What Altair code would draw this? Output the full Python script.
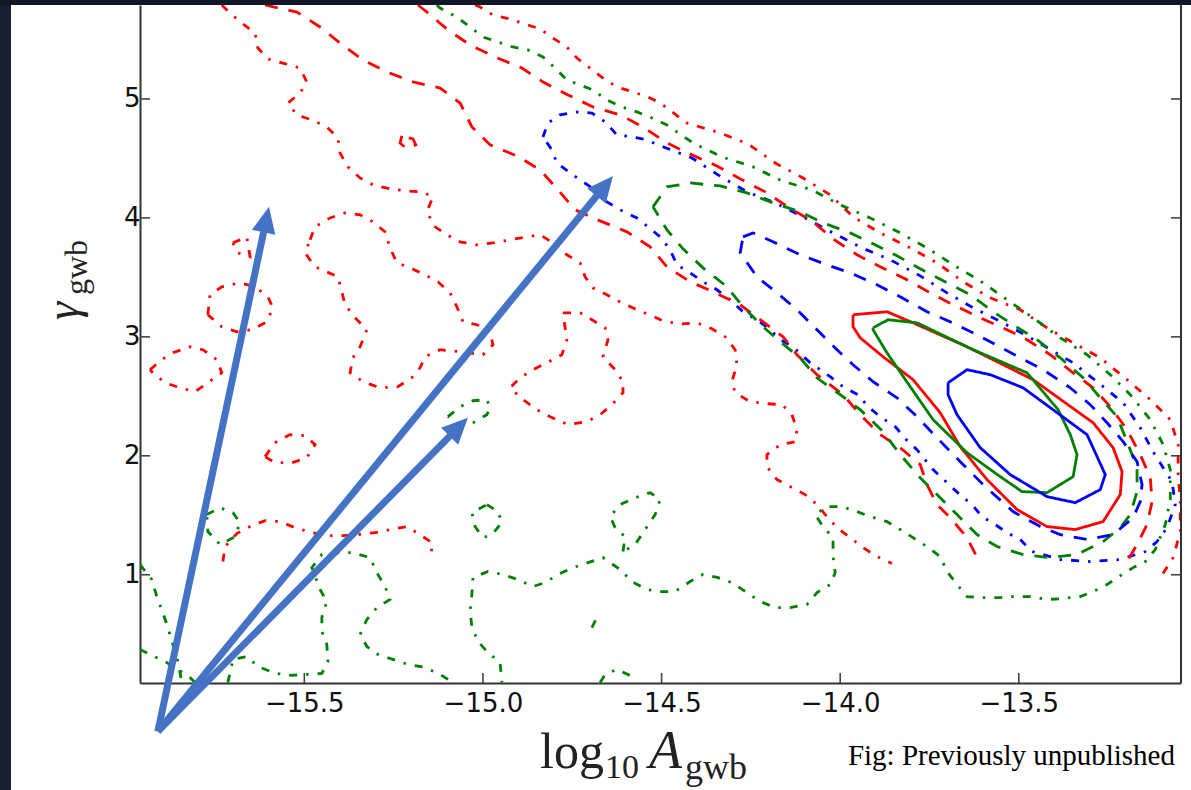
import math
import altair as alt
import pandas as pd

# ---------------------------------------------------------------------------
# Posterior contours in the (log10 A_gwb, gamma_gwb) plane.
# Three analyses (red, green, blue), each with 1-, 2- and 3-sigma levels.
# Points are (log10 A, gamma) pairs.
# ---------------------------------------------------------------------------

RED_1SIG = [(-13.964, 3.186), (-13.869, 3.211), (-13.796, 3.118), (-13.645, 2.917),
            (-13.460, 2.640), (-13.292, 2.278), (-13.236, 2.068), (-13.211, 1.867),
            (-13.216, 1.674), (-13.264, 1.447), (-13.342, 1.380), (-13.421, 1.405),
            (-13.505, 1.548), (-13.589, 1.800), (-13.664, 2.077), (-13.720, 2.362),
            (-13.796, 2.640), (-13.880, 2.833), (-13.944, 2.992), (-13.964, 3.085)]

GREEN_1SIG = [(-13.908, 3.076), (-13.866, 3.144), (-13.785, 3.118), (-13.628, 2.892),
              (-13.477, 2.698), (-13.390, 2.388), (-13.356, 2.178), (-13.337, 2.010),
              (-13.348, 1.825), (-13.421, 1.690), (-13.491, 1.699), (-13.552, 1.825),
              (-13.645, 2.026), (-13.740, 2.304), (-13.804, 2.581), (-13.869, 2.866),
              (-13.908, 3.060)]

BLUE_1SIG = [(-13.698, 2.614), (-13.645, 2.724), (-13.580, 2.682), (-13.488, 2.572),
             (-13.309, 2.178), (-13.258, 1.842), (-13.272, 1.716), (-13.342, 1.606),
             (-13.421, 1.657), (-13.524, 1.842), (-13.608, 2.068), (-13.673, 2.346),
             (-13.698, 2.514)]

BLUE_2SIG = [(-14.272, 3.841), (-14.244, 3.874), (-14.188, 3.799), (-14.112, 3.690),
             (-14.037, 3.606), (-13.972, 3.538), (-13.897, 3.438), (-13.832, 3.337),
             (-13.757, 3.211), (-13.692, 3.127), (-13.617, 3.018), (-13.496, 2.824),
             (-13.432, 2.724), (-13.356, 2.572), (-13.300, 2.430), (-13.253, 2.278),
             (-13.208, 2.119), (-13.169, 1.951), (-13.155, 1.758), (-13.160, 1.615),
             (-13.180, 1.480), (-13.236, 1.338), (-13.309, 1.296), (-13.384, 1.338),
             (-13.440, 1.405), (-13.516, 1.531), (-13.600, 1.758), (-13.664, 1.951),
             (-13.729, 2.152), (-13.785, 2.329), (-13.841, 2.488), (-13.908, 2.623),
             (-13.964, 2.766), (-14.009, 2.892), (-14.065, 3.060), (-14.121, 3.228),
             (-14.177, 3.370), (-14.233, 3.505), (-14.280, 3.706)]

GREEN_2SIG = [(-14.524, 4.093), (-14.485, 4.261), (-14.420, 4.294), (-14.336, 4.269),
              (-14.261, 4.210), (-14.188, 4.126), (-14.112, 4.051), (-14.048, 3.958),
              (-13.972, 3.874), (-13.908, 3.782), (-13.841, 3.681), (-13.776, 3.572),
              (-13.701, 3.454), (-13.636, 3.354), (-13.572, 3.211), (-13.516, 3.102),
              (-13.449, 2.976), (-13.384, 2.824), (-13.320, 2.656), (-13.272, 2.488),
              (-13.225, 2.329), (-13.197, 2.119), (-13.169, 1.900), (-13.169, 1.699),
              (-13.188, 1.506), (-13.216, 1.396), (-13.264, 1.279), (-13.337, 1.170),
              (-13.412, 1.144), (-13.488, 1.170), (-13.561, 1.237), (-13.617, 1.338),
              (-13.673, 1.506), (-13.729, 1.674), (-13.776, 1.816), (-13.832, 2.010),
              (-13.880, 2.203), (-13.944, 2.388), (-14.000, 2.514), (-14.065, 2.656),
              (-14.112, 2.824), (-14.168, 2.959), (-14.216, 3.085), (-14.272, 3.253),
              (-14.317, 3.421), (-14.384, 3.580), (-14.440, 3.740), (-14.485, 3.900)]

RED_2SIG_LEFT = [(-15.610, 5.790), (-15.521, 5.731), (-15.456, 5.605), (-15.400, 5.470),
                 (-15.336, 5.328), (-15.269, 5.227), (-15.196, 5.143), (-15.120, 5.092),
                 (-15.064, 4.966), (-15.031, 4.765), (-14.980, 4.614), (-14.905, 4.521),
                 (-14.840, 4.404), (-14.790, 4.236), (-14.742, 4.068), (-14.672, 3.975),
                 (-14.597, 3.883), (-14.532, 3.757), (-14.485, 3.589), (-14.420, 3.463),
                 (-14.356, 3.379), (-14.280, 3.270), (-14.224, 3.144), (-14.160, 3.001),
                 (-14.121, 2.850), (-14.065, 2.682), (-13.992, 2.514), (-13.944, 2.346),
                 (-13.888, 2.178), (-13.832, 2.068), (-13.776, 1.926), (-13.757, 1.758),
                 (-13.729, 1.590), (-13.692, 1.480), (-13.645, 1.312), (-13.614, 1.128)]

RED_2SIG_RIGHT = [(-15.182, 5.790), (-15.157, 5.731), (-15.098, 5.580), (-15.036, 5.454),
                  (-14.966, 5.353), (-14.891, 5.260), (-14.832, 5.143), (-14.762, 5.034),
                  (-14.692, 4.933), (-14.616, 4.866), (-14.552, 4.765), (-14.485, 4.630),
                  (-14.415, 4.530), (-14.345, 4.437), (-14.275, 4.320), (-14.210, 4.219),
                  (-14.146, 4.093), (-14.076, 3.967), (-14.020, 3.824), (-13.953, 3.690),
                  (-13.888, 3.589), (-13.813, 3.480), (-13.748, 3.370), (-13.684, 3.270),
                  (-13.608, 3.160), (-13.533, 3.060), (-13.477, 2.976), (-13.412, 2.850),
                  (-13.348, 2.698), (-13.292, 2.572), (-13.244, 2.413), (-13.197, 2.220),
                  (-13.160, 2.010), (-13.132, 1.816), (-13.127, 1.615), (-13.141, 1.422),
                  (-13.169, 1.254), (-13.197, 1.111)]

RED_2SIG_ISLAND = [(-15.227, 4.689), (-15.232, 4.630), (-15.213, 4.580),
                   (-15.188, 4.614), (-15.196, 4.664)]

RED_3SIG_LEFT = [(-15.731, 5.790), (-15.708, 5.722), (-15.675, 5.638), (-15.638, 5.554),
                 (-15.630, 5.428), (-15.602, 5.336), (-15.560, 5.302), (-15.512, 5.260),
                 (-15.493, 5.143), (-15.512, 5.050), (-15.546, 4.966), (-15.521, 4.866),
                 (-15.479, 4.824), (-15.437, 4.765), (-15.406, 4.672), (-15.400, 4.546),
                 (-15.378, 4.429), (-15.344, 4.336), (-15.308, 4.278), (-15.260, 4.244),
                 (-15.213, 4.227), (-15.171, 4.219), (-15.140, 4.177), (-15.157, 4.051),
                 (-15.134, 3.925), (-15.101, 3.858), (-15.064, 3.799), (-15.017, 3.774),
                 (-14.972, 3.790), (-14.924, 3.816), (-14.877, 3.841), (-14.840, 3.858),
                 (-14.804, 3.790), (-14.765, 3.690), (-14.728, 3.622), (-14.714, 3.505),
                 (-14.692, 3.412), (-14.653, 3.354), (-14.611, 3.286), (-14.569, 3.228),
                 (-14.527, 3.177), (-14.490, 3.127), (-14.443, 3.110), (-14.401, 3.118),
                 (-14.359, 3.068), (-14.322, 3.001), (-14.294, 2.892), (-14.289, 2.766),
                 (-14.303, 2.623), (-14.294, 2.530), (-14.252, 2.455), (-14.205, 2.438),
                 (-14.163, 2.430), (-14.135, 2.346), (-14.121, 2.220), (-14.126, 2.119),
                 (-14.168, 2.094), (-14.205, 2.010), (-14.205, 1.909), (-14.177, 1.800),
                 (-14.140, 1.741), (-14.098, 1.674), (-14.065, 1.590), (-14.037, 1.489),
                 (-14.009, 1.396), (-13.972, 1.312), (-13.936, 1.228), (-13.897, 1.153),
                 (-13.855, 1.094)]

RED_3SIG_RIGHT = [(-15.022, 5.790), (-15.008, 5.773), (-14.972, 5.706), (-14.924, 5.672),
                  (-14.882, 5.630), (-14.840, 5.588), (-14.804, 5.512), (-14.765, 5.437),
                  (-14.737, 5.344), (-14.700, 5.260), (-14.664, 5.176), (-14.625, 5.101),
                  (-14.580, 5.059), (-14.538, 5.017), (-14.504, 4.966), (-14.429, 4.798),
                  (-14.336, 4.714), (-14.258, 4.622), (-14.182, 4.462), (-14.104, 4.336),
                  (-14.028, 4.194), (-13.964, 4.009), (-13.888, 3.874), (-13.804, 3.748),
                  (-13.729, 3.622), (-13.656, 3.463), (-13.580, 3.328), (-13.496, 3.228),
                  (-13.421, 3.076), (-13.348, 2.950), (-13.272, 2.824), (-13.197, 2.640),
                  (-13.132, 2.472), (-13.076, 2.304), (-13.054, 2.094), (-13.054, 1.816),
                  (-13.048, 1.648), (-13.048, 1.363), (-13.068, 1.144), (-13.104, 0.976)]

RED_3SIG_LOOP_A = [(-15.484, 3.816), (-15.470, 3.925), (-15.428, 4.000), (-15.386, 4.042),
                   (-15.344, 4.026), (-15.308, 3.967), (-15.274, 3.883), (-15.260, 3.748),
                   (-15.241, 3.622), (-15.204, 3.580), (-15.162, 3.522), (-15.126, 3.463),
                   (-15.092, 3.370), (-15.073, 3.253), (-15.056, 3.127), (-15.017, 3.102),
                   (-14.980, 3.043), (-14.972, 2.934), (-15.000, 2.850), (-15.064, 2.875),
                   (-15.120, 2.892), (-15.162, 2.833), (-15.176, 2.740), (-15.199, 2.656),
                   (-15.238, 2.581), (-15.288, 2.572), (-15.336, 2.623), (-15.372, 2.698),
                   (-15.364, 2.824), (-15.344, 2.917), (-15.325, 3.060), (-15.358, 3.160),
                   (-15.386, 3.270), (-15.395, 3.379), (-15.406, 3.505), (-15.470, 3.589),
                   (-15.498, 3.706)]

RED_3SIG_LOOP_B = [(-14.776, 3.202), (-14.728, 3.202), (-14.695, 3.144), (-14.658, 3.076),
                   (-14.650, 2.976), (-14.664, 2.833), (-14.630, 2.724), (-14.608, 2.623),
                   (-14.608, 2.530), (-14.639, 2.430), (-14.672, 2.346), (-14.709, 2.287),
                   (-14.762, 2.262), (-14.812, 2.329), (-14.849, 2.388), (-14.888, 2.472),
                   (-14.924, 2.572), (-14.896, 2.656), (-14.860, 2.724), (-14.821, 2.782),
                   (-14.779, 2.850), (-14.765, 2.976), (-14.770, 3.076)]

RED_3SIG_LOOP_C = [(-15.932, 2.724), (-15.899, 2.808), (-15.868, 2.866), (-15.820, 2.917),
                   (-15.784, 2.892), (-15.745, 2.808), (-15.731, 2.698), (-15.770, 2.614),
                   (-15.806, 2.539), (-15.848, 2.572), (-15.890, 2.614), (-15.924, 2.698)]

RED_3SIG_LOOP_D = [(-15.770, 3.186), (-15.764, 3.354), (-15.731, 3.421), (-15.680, 3.454),
                   (-15.638, 3.421), (-15.602, 3.337), (-15.588, 3.244), (-15.605, 3.127),
                   (-15.647, 3.060), (-15.689, 3.043), (-15.731, 3.085)]

RED_3SIG_LOOP_E = [(-15.610, 1.993), (-15.582, 2.110), (-15.540, 2.178), (-15.498, 2.169),
                   (-15.470, 2.094), (-15.493, 1.984), (-15.535, 1.942), (-15.582, 1.942)]

RED_3SIG_LOOP_F = [(-15.700, 3.790), (-15.661, 3.841), (-15.652, 3.673), (-15.686, 3.706)]

RED_3SIG_LOW = [(-15.728, 1.111), (-15.722, 1.237), (-15.689, 1.346), (-15.652, 1.405),
                (-15.610, 1.455), (-15.568, 1.447), (-15.526, 1.396), (-15.479, 1.354),
                (-15.437, 1.329), (-15.392, 1.329), (-15.350, 1.338), (-15.302, 1.354),
                (-15.260, 1.380), (-15.213, 1.405), (-15.176, 1.338), (-15.140, 1.262),
                (-15.148, 1.153)]

GREEN_3SIG_MAIN = [(-15.129, 5.790), (-15.120, 5.764), (-15.073, 5.689), (-15.036, 5.605),
                   (-15.000, 5.521), (-14.958, 5.479), (-14.916, 5.437), (-14.874, 5.412),
                   (-14.832, 5.353), (-14.798, 5.260), (-14.765, 5.160), (-14.728, 5.118),
                   (-14.692, 5.076), (-14.653, 4.992), (-14.611, 4.933), (-14.569, 4.891),
                   (-14.527, 4.840), (-14.485, 4.782), (-14.412, 4.630), (-14.331, 4.513),
                   (-14.244, 4.429), (-14.163, 4.311), (-14.079, 4.236), (-14.000, 4.110),
                   (-13.916, 4.000), (-13.838, 3.883), (-13.757, 3.748), (-13.684, 3.606),
                   (-13.608, 3.471), (-13.533, 3.312), (-13.460, 3.160), (-13.384, 2.992),
                   (-13.309, 2.850), (-13.244, 2.682), (-13.188, 2.514), (-13.132, 2.304),
                   (-13.096, 2.094), (-13.076, 1.884), (-13.076, 1.632), (-13.090, 1.422),
                   (-13.118, 1.212), (-13.146, 1.111), (-13.180, 1.060), (-13.211, 1.002),
                   (-13.253, 0.918), (-13.292, 0.859), (-13.328, 0.817), (-13.376, 0.800),
                   (-13.421, 0.792), (-13.468, 0.817), (-13.516, 0.817), (-13.552, 0.808),
                   (-13.600, 0.808), (-13.645, 0.817), (-13.673, 0.918), (-13.701, 1.027),
                   (-13.720, 1.153), (-13.757, 1.237), (-13.796, 1.312), (-13.832, 1.380),
                   (-13.869, 1.447), (-13.916, 1.489), (-13.953, 1.531), (-13.995, 1.573),
                   (-14.037, 1.573), (-14.070, 1.506), (-14.048, 1.405), (-14.020, 1.312),
                   (-14.020, 1.153), (-14.014, 1.018), (-14.028, 0.918), (-14.065, 0.850),
                   (-14.093, 0.750), (-14.140, 0.724), (-14.182, 0.724), (-14.224, 0.775),
                   (-14.261, 0.850), (-14.303, 0.934), (-14.342, 0.976), (-14.384, 1.002),
                   (-14.420, 0.943), (-14.462, 0.859), (-14.504, 0.859), (-14.541, 0.876),
                   (-14.583, 0.943), (-14.616, 1.044), (-14.664, 1.144), (-14.706, 1.102),
                   (-14.748, 1.060), (-14.790, 1.002), (-14.826, 0.934), (-14.860, 0.901),
                   (-14.902, 0.960), (-14.944, 1.002), (-14.986, 1.027), (-15.028, 0.976),
                   (-15.031, 0.834), (-15.036, 0.691), (-15.031, 0.565), (-15.014, 0.439),
                   (-14.986, 0.346), (-14.952, 0.262), (-14.947, 0.094)]

GREEN_3SIG_LOOP_A = [(-14.608, 1.195), (-14.602, 1.321), (-14.630, 1.396), (-14.644, 1.489),
                     (-14.616, 1.590), (-14.574, 1.648), (-14.532, 1.690), (-14.504, 1.632),
                     (-14.518, 1.506), (-14.546, 1.380), (-14.574, 1.254)]

GREEN_3SIG_LOOP_B = [(-14.989, 1.590), (-14.958, 1.531), (-14.947, 1.438), (-14.975, 1.338),
                     (-15.000, 1.312), (-15.022, 1.405), (-15.031, 1.522)]

GREEN_3SIG_LOOP_C = [(-15.098, 2.329), (-15.064, 2.413), (-15.028, 2.463), (-14.989, 2.472),
                     (-14.980, 2.404), (-14.989, 2.346), (-15.028, 2.278), (-15.064, 2.262)]

GREEN_3SIG_LOOP_D = [(-15.773, 1.506), (-15.736, 1.564), (-15.700, 1.522), (-15.680, 1.438),
                     (-15.694, 1.321), (-15.736, 1.254), (-15.770, 1.363)]

GREEN_3SIG_EDGE_A = [(-15.960, 1.086), (-15.927, 0.960), (-15.913, 0.817), (-15.896, 0.682),
                     (-15.882, 0.556), (-15.868, 0.414), (-15.854, 0.271), (-15.843, 0.094)]

GREEN_3SIG_EDGE_B = [(-15.960, 0.372), (-15.927, 0.321), (-15.890, 0.271), (-15.854, 0.204),
                     (-15.820, 0.136), (-15.806, 0.094)]

GREEN_3SIG_LOW = [(-15.714, 0.094), (-15.700, 0.288), (-15.661, 0.313), (-15.630, 0.229),
                  (-15.588, 0.178), (-15.546, 0.153), (-15.493, 0.162), (-15.451, 0.170),
                  (-15.434, 0.271), (-15.437, 0.414), (-15.451, 0.523), (-15.451, 0.640),
                  (-15.437, 0.775), (-15.456, 0.876), (-15.479, 1.060), (-15.451, 1.170),
                  (-15.400, 1.186), (-15.364, 1.186), (-15.316, 1.144), (-15.297, 1.018),
                  (-15.274, 0.901), (-15.260, 0.792), (-15.297, 0.724), (-15.325, 0.624),
                  (-15.344, 0.498), (-15.325, 0.397), (-15.294, 0.330), (-15.252, 0.288),
                  (-15.210, 0.246), (-15.162, 0.221), (-15.120, 0.162), (-15.084, 0.094)]

GREEN_3SIG_BOTTOM = [(-14.672, 0.094), (-14.658, 0.162), (-14.625, 0.204),
                     (-14.588, 0.153), (-14.574, 0.094)]

GREEN_3SIG_BIT = [(-14.695, 0.556), (-14.681, 0.640)]

BLUE_3SIG = [(-14.832, 4.681), (-14.818, 4.798), (-14.784, 4.866), (-14.737, 4.891),
             (-14.695, 4.882), (-14.658, 4.807), (-14.625, 4.698), (-14.583, 4.681),
             (-14.541, 4.656), (-14.510, 4.614), (-14.415, 4.504), (-14.342, 4.362),
             (-14.261, 4.219), (-14.182, 4.126), (-14.104, 4.009), (-14.020, 3.874),
             (-13.939, 3.748), (-13.860, 3.648), (-13.776, 3.513), (-13.701, 3.370),
             (-13.628, 3.244), (-13.544, 3.118), (-13.468, 2.992), (-13.348, 2.782),
             (-13.281, 2.623), (-13.208, 2.446), (-13.160, 2.236), (-13.124, 2.035),
             (-13.096, 1.900), (-13.071, 1.783), (-13.062, 1.590), (-13.085, 1.396),
             (-13.113, 1.279), (-13.146, 1.195), (-13.216, 1.128), (-13.300, 1.111),
             (-13.384, 1.128), (-13.432, 1.170), (-13.463, 1.195), (-13.496, 1.296),
             (-13.533, 1.354), (-13.566, 1.422), (-13.603, 1.489), (-13.631, 1.590),
             (-13.659, 1.657), (-13.701, 1.774), (-13.740, 1.884), (-13.785, 2.052),
             (-13.810, 2.119), (-13.846, 2.245), (-13.888, 2.329), (-13.922, 2.413),
             (-13.950, 2.514), (-13.992, 2.581), (-14.028, 2.665), (-14.084, 2.782),
             (-14.132, 2.917), (-14.168, 2.976), (-14.196, 3.060), (-14.233, 3.144),
             (-14.272, 3.211), (-14.308, 3.312), (-14.345, 3.396), (-14.384, 3.463),
             (-14.420, 3.538), (-14.457, 3.606), (-14.476, 3.732), (-14.504, 3.841),
             (-14.538, 3.925), (-14.569, 4.000), (-14.616, 4.068), (-14.653, 4.135),
             (-14.686, 4.236), (-14.720, 4.303), (-14.756, 4.378), (-14.793, 4.462),
             (-14.807, 4.572)]

# (name, points, colour, line style, closed)
CONTOURS = [
    ("red_3_left", RED_3SIG_LEFT, "red", "dashdot", False),
    ("red_3_right", RED_3SIG_RIGHT, "red", "dashdot", False),
    ("red_3_a", RED_3SIG_LOOP_A, "red", "dashdot", True),
    ("red_3_b", RED_3SIG_LOOP_B, "red", "dashdot", True),
    ("red_3_c", RED_3SIG_LOOP_C, "red", "dashdot", True),
    ("red_3_d", RED_3SIG_LOOP_D, "red", "dashdot", True),
    ("red_3_e", RED_3SIG_LOOP_E, "red", "dashdot", True),
    ("red_3_f", RED_3SIG_LOOP_F, "red", "dashdot", True),
    ("red_3_low", RED_3SIG_LOW, "red", "dashdot", False),
    ("green_3_main", GREEN_3SIG_MAIN, "green", "dashdot", False),
    ("green_3_a", GREEN_3SIG_LOOP_A, "green", "dashdot", True),
    ("green_3_b", GREEN_3SIG_LOOP_B, "green", "dashdot", True),
    ("green_3_c", GREEN_3SIG_LOOP_C, "green", "dashdot", True),
    ("green_3_d", GREEN_3SIG_LOOP_D, "green", "dashdot", True),
    ("green_3_edge_a", GREEN_3SIG_EDGE_A, "green", "dashdot", False),
    ("green_3_edge_b", GREEN_3SIG_EDGE_B, "green", "dashdot", False),
    ("green_3_low", GREEN_3SIG_LOW, "green", "dashdot", False),
    ("green_3_bottom", GREEN_3SIG_BOTTOM, "green", "dashdot", False),
    ("green_3_bit", GREEN_3SIG_BIT, "green", "dashdot", False),
    ("blue_3", BLUE_3SIG, "blue", "dashdot", True),
    ("red_2_left", RED_2SIG_LEFT, "red", "dashed", False),
    ("red_2_right", RED_2SIG_RIGHT, "red", "dashed", False),
    ("red_2_island", RED_2SIG_ISLAND, "red", "dashed", True),
    ("green_2", GREEN_2SIG, "green", "dashed", True),
    ("blue_2", BLUE_2SIG, "blue", "dashed", True),
    ("red_1", RED_1SIG, "red", "solid", True),
    ("green_1", GREEN_1SIG, "green", "solid", True),
    ("blue_1", BLUE_1SIG, "blue", "solid", True),
]

LINE_COLOURS = {"red": "#ff0000", "green": "#008000", "blue": "#0000ff"}

X_TICKS = [-15.5, -15.0, -14.5, -14.0, -13.5]
Y_TICKS = [1, 2, 3, 4, 5]
X_DOMAIN = [-15.96, -13.046]
Y_DOMAIN = [0.09, 5.79]

# Annotation arrows: common tail and three tips, in data units
ARROW_TAIL = (-15.910, -0.317)
ARROW_TIP_X = [-15.599, -14.636, -15.042]
ARROW_TIP_Y = [4.093, 4.353, 2.320]
ARROW_COLOUR = "#4472c4"

CAPTION = "Fig: Previously unpublished"

W, H = 1041, 678

rows = []
for name, pts, col, style, closed in CONTOURS:
    seq = list(pts) + ([pts[0]] if closed else [])
    for i, (xv, yv) in enumerate(seq):
        rows.append({"curve": name, "color": LINE_COLOURS[col], "style": style,
                     "idx": i, "x": xv, "y": yv})
lines_df = pd.DataFrame(rows)

x_enc = alt.X("x:Q", title=None,
              scale=alt.Scale(domain=X_DOMAIN, nice=False, zero=False),
              axis=alt.Axis(values=X_TICKS, ticks=False, grid=False,
                            labelExpr="replace(format(datum.value, '.1f'), '-', '\u2212')",
                            labelFont="DejaVu Sans", labelFontSize=26, labelColor="#111111",
                            labelPadding=7, domainColor="#333333", domainWidth=2))
y_enc = alt.Y("y:Q", title=None,
              scale=alt.Scale(domain=Y_DOMAIN, nice=False, zero=False),
              axis=alt.Axis(values=Y_TICKS, format="d", ticks=False, grid=False,
                            labelFont="DejaVu Sans", labelFontSize=26, labelColor="#111111",
                            labelPadding=0, domainColor="#333333", domainWidth=2))

contours = alt.Chart(lines_df).mark_line(strokeWidth=2.8, clip=True).encode(
    x=x_enc, y=y_enc,
    color=alt.Color("color:N", scale=None),
    strokeDash=alt.StrokeDash("style:N", legend=None,
                              scale=alt.Scale(domain=["solid", "dashed", "dashdot"],
                                              range=[[1, 0], [13, 11], [8, 9, 2.5, 9]])),
    detail="curve:N",
    order=alt.Order("idx:Q"),
)

# inward ticks on left, right and bottom spines
ytick_df = pd.DataFrame({"y": Y_TICKS})
xtick_df = pd.DataFrame({"x": X_TICKS})
tick_style = dict(color="#444444", strokeWidth=1.6)
left_ticks = alt.Chart(ytick_df).mark_rule(**tick_style).encode(
    y=y_enc, x=alt.value(0), x2=alt.value(10))
right_ticks = alt.Chart(ytick_df).mark_rule(**tick_style).encode(
    y=y_enc, x=alt.value(W), x2=alt.value(W - 10))
bottom_ticks = alt.Chart(xtick_df).mark_rule(**tick_style).encode(
    x=x_enc, y=alt.value(H), y2=alt.value(H - 10))

one = pd.DataFrame({"k": [0]})
right_spine = alt.Chart(one).mark_rule(color="#333333", strokeWidth=2).encode(
    x=alt.value(W), y=alt.value(0), y2=alt.value(H))

# dark slide border on the left and top
left_band = alt.Chart(one).mark_rect(color="#172031").encode(
    x=alt.value(-140), x2=alt.value(-129), y=alt.value(-5), y2=alt.value(H + 107))
top_band = alt.Chart(one).mark_rect(color="#101828").encode(
    x=alt.value(-140), x2=alt.value(W + 10), y=alt.value(-5), y2=alt.value(0))

# arrows: shaft ends a little behind the tip so the head stays sharp
kx = W / (X_DOMAIN[1] - X_DOMAIN[0])
ky = H / (Y_DOMAIN[1] - Y_DOMAIN[0])
HEAD_LEN = 26.0
shaft_rows, head_rows = [], []
for tx, ty in zip(ARROW_TIP_X, ARROW_TIP_Y):
    dxp = (tx - ARROW_TAIL[0]) * kx
    dyp = -(ty - ARROW_TAIL[1]) * ky
    ln = math.hypot(dxp, dyp)
    ux, uy = dxp / ln, dyp / ln
    neck_x = tx - ux * HEAD_LEN * 0.6 / kx
    neck_y = ty + uy * HEAD_LEN * 0.6 / ky
    shaft_rows.append({"x": ARROW_TAIL[0], "y": ARROW_TAIL[1], "x2": neck_x, "y2": neck_y})
    ang = math.degrees(math.atan2(dxp, -dyp)) % 360
    head_rows.append({"x": tx, "y": ty, "ang": ang})

shafts = alt.Chart(pd.DataFrame(shaft_rows)).mark_rule(
    color=ARROW_COLOUR, strokeWidth=7, strokeCap="butt").encode(
    x=x_enc, y=y_enc, x2="x2:Q", y2="y2:Q")
heads = alt.Chart(pd.DataFrame(head_rows)).mark_point(
    shape="M0,0L-0.46,1L0.46,1Z", size=(2 * HEAD_LEN) ** 2, filled=True,
    color=ARROW_COLOUR, opacity=1, strokeWidth=0).encode(
    x=x_enc, y=y_enc, angle=alt.Angle("ang:Q", scale=None))

# axis titles built from pieces so that subscripts sit lower and smaller
serif = "Liberation Serif"
def label(text, x, y, size, style="normal", angle=0):
    return alt.Chart(one).mark_text(
        text=text, font=serif, fontSize=size, fontStyle=style, color="#222222",
        align="left", baseline="alphabetic", angle=angle).encode(
        x=alt.value(x), y=alt.value(y))

xlabel = (label("log", 400, 763, 50) + label("10", 465, 773, 34)
          + label("A", 509, 763, 54, "italic") + label("gwb", 545, 774, 36))
ylabel = (label("\u03b3", -62, 315, 46, "italic", 270)
          + label("gwb", -53, 290, 32, "normal", 270))

caption = alt.Chart(one).mark_text(
    text=CAPTION, font=serif, fontSize=29, color="#000000",
    align="right", baseline="alphabetic").encode(
    x=alt.value(1035), y=alt.value(760))

chart = alt.layer(
    contours, left_ticks, right_ticks, bottom_ticks, right_spine,
    shafts, heads, xlabel, ylabel, caption, left_band, top_band,
).properties(
    width=W, height=H,
    autosize=alt.AutoSizeParams(type="none"),
    padding={"left": 140, "top": 5, "right": 10, "bottom": 107},
    background="white",
).configure_view(stroke=None)

chart.save("out.html", embed_options={"renderer": "svg", "actions": False})
